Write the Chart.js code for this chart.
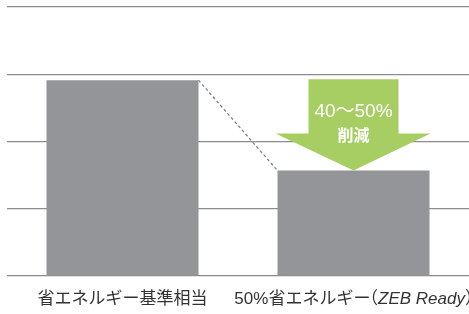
<!DOCTYPE html>
<html>
<head>
<meta charset="utf-8">
<script src="https://cdn.jsdelivr.net/npm/chart.js@4/dist/chart.umd.min.js"></script>
<style>
  html, body { margin: 0; padding: 0; background: #fff; }
  #wrap { width: 469px; height: 314px; }
</style>
</head>
<body>
<div id="wrap"><canvas id="grafico"></canvas></div>
<script>
// dados do gráfico
const categorias = ['省エネルギー基準相当', '50%省エネルギー（ZEB Ready）'];
const valores = [72.8, 39.2];
const yTicks = [0, 25, 50, 75, 100];
const textoSeta = ['40〜50%', '削減'];

const fonte = '"Liberation Sans", "Noto Sans CJK JP", sans-serif';

// linha tracejada, seta verde e rótulos do eixo x
const extras = {
    id: 'extras',
    afterDatasetsDraw(chart) {
        const ctx = chart.ctx;
        const meta = chart.getDatasetMeta(0);
        const b1 = meta.data[0], b2 = meta.data[1];
        const w1 = b1.width / 2, w2 = b2.width / 2;

        // tracejado
        ctx.save();
        ctx.strokeStyle = '#7a7a7c';
        ctx.lineWidth = 1.2;
        ctx.setLineDash([3, 2.5]);
        ctx.beginPath();
        ctx.moveTo(b1.x + w1, b1.y);
        ctx.lineTo(b2.x - w2, b2.y);
        ctx.stroke();
        ctx.restore();

        // seta
        const topo = b1.y - 1;
        const ponta = b2.y;
        const cab = ponta - 37;
        const cx = b2.x;
        ctx.save();
        ctx.fillStyle = '#a6ce63';
        ctx.beginPath();
        ctx.moveTo(cx - 45, topo);
        ctx.lineTo(cx + 45, topo);
        ctx.lineTo(cx + 45, cab);
        ctx.lineTo(cx + w2 + 1, cab);
        ctx.lineTo(cx, ponta);
        ctx.lineTo(cx - w2 - 2, cab);
        ctx.lineTo(cx - 45, cab);
        ctx.closePath();
        ctx.fill();
        ctx.fillStyle = '#fff';
        ctx.textAlign = 'center';
        ctx.textBaseline = 'middle';
        ctx.font = '19px ' + fonte;
        ctx.fillText(textoSeta[0], cx, topo + 33);
        ctx.font = 'bold 16px "Noto Sans CJK JP", sans-serif';
        ctx.fillText(textoSeta[1], cx, topo + 56);
        ctx.restore();

        // rótulos (parênteses com meia largura)
        const xs = chart.scales.x;
        const yl = 299;
        ctx.save();
        ctx.fillStyle = '#333';
        ctx.textBaseline = 'middle';
        ctx.textAlign = 'left';
        categorias.forEach((cat, i) => {
            const m = cat.match(/^(.*)（(.*)）$/);
            const partes = m
                ? [[m[1], '', 0], ['（', '', -1], [m[2], 'italic ', 0], ['）', '', 1]]
                : [[cat, '', 0]];
            const larg = p => {
                ctx.font = p[1] + '17px ' + fonte;
                const w = ctx.measureText(p[0]).width;
                return p[2] ? w * 0.45 : w;
            };
            const total = partes.reduce((s, p) => s + larg(p), 0);
            let x = xs.getPixelForValue(i) - total / 2;
            partes.forEach(p => {
                const w = larg(p);
                const full = ctx.measureText(p[0]).width;
                ctx.fillText(p[0], p[2] < 0 ? x - (full - w) : x, yl);
                x += w;
            });
        });
        ctx.restore();
    }
};

new Chart(document.getElementById('grafico'), {
    type: 'bar',
    data: {
        labels: categorias,
        datasets: [{
            data: valores,
            backgroundColor: '#939598',
            borderWidth: 0,
            barPercentage: 0.658,
            categoryPercentage: 1
        }]
    },
    options: {
        responsive: true,
        maintainAspectRatio: false,
        animation: false,
        layout: { padding: { left: 7, top: 7, right: 0, bottom: 30 } },
        plugins: { legend: { display: false }, tooltip: { enabled: false } },
        scales: {
            x: {
                grid: { display: false },
                border: { display: false },
                ticks: { display: false }
            },
            y: {
                min: 0,
                max: 100,
                afterBuildTicks(axis) { axis.ticks = yTicks.map(v => ({ value: v })); },
                grid: { color: '#8c8c8e', lineWidth: 1.3, drawTicks: false },
                border: { display: false },
                ticks: { display: false }
            }
        }
    },
    plugins: [extras]
});
</script>
</body>
</html>
